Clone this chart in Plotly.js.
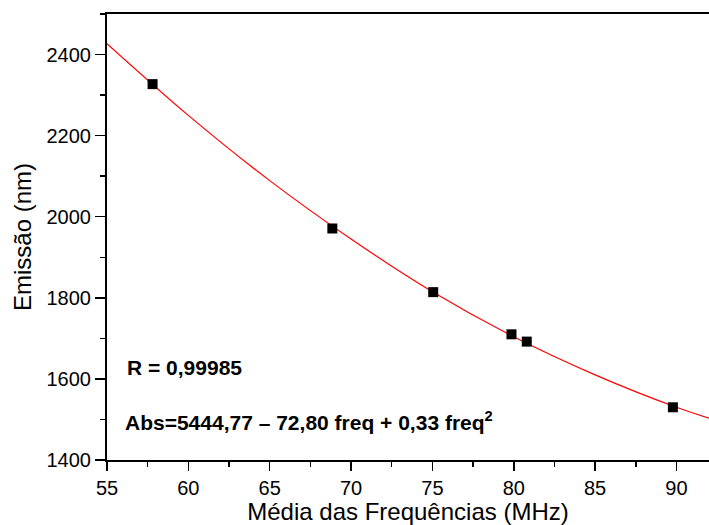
<!DOCTYPE html>
<html>
<head>
<meta charset="utf-8">
<script src="https://cdn.plot.ly/plotly-3.0.1.min.js"></script>
<style>html,body{margin:0;padding:0;background:#fff;}#chart{width:709px;height:525px;}</style>
</head>
<body>
<div id="chart"></div>
<script>
// Measured points
const freq = [57.8, 68.85, 75.05, 79.86, 80.8, 89.78];
const emissao = [2327, 1971, 1814, 1710, 1692, 1530];
// Fit curve
const fitFreq = [55, 60, 65, 70, 75, 80, 85, 90, 92];
const fitEmissao = [2427, 2250, 2089, 1945, 1815, 1704, 1610, 1530, 1503];
// Text
const xTitle = "Média das Frequências (MHz)";
const yTitle = "Emissão (nm)";
const rText = "<b>R = 0,99985</b>";
const eqText = "<b>Abs=5444,77 – 72,80 freq + 0,33 freq<sup>2</sup></b>";

const font = "'Liberation Sans', Arial, sans-serif";

const traces = [
  {x: fitFreq, y: fitEmissao, mode: "lines", type: "scatter",
   line: {color: "#ff0000", width: 1.2, shape: "spline", smoothing: 1}, hoverinfo: "skip"},
  {x: freq, y: emissao, mode: "markers", type: "scatter",
   marker: {symbol: "square", size: 10, color: "#000", line: {width: 0}}}
];

const layout = {
  width: 709, height: 525,
  margin: {l: 107, r: 0, t: 14, b: 65},
  paper_bgcolor: "#fff", plot_bgcolor: "#fff",
  showlegend: false,
  font: {family: font, color: "#000", size: 20},
  xaxis: {
    range: [55, 92], tick0: 55, dtick: 5,
    ticks: "outside", ticklen: 9, tickwidth: 1.5, tickcolor: "#000",
    minor: {ticks: "outside", ticklen: 5, tickwidth: 1.5, tickcolor: "#000", dtick: 2.5, tick0: 55},
    showline: true, linecolor: "#000", linewidth: 2, mirror: true,
    showgrid: false, zeroline: false,
    tickfont: {size: 20, family: font},
    title: {text: xTitle, font: {size: 24, family: font}, standoff: 2}
  },
  yaxis: {
    range: [1400, 2500], tick0: 1400, dtick: 200,
    ticks: "outside", ticklen: 10, tickwidth: 1.5, tickcolor: "#000",
    minor: {ticks: "outside", ticklen: 5, tickwidth: 1.5, tickcolor: "#000", dtick: 100, tick0: 1400},
    showline: true, linecolor: "#000", linewidth: 2,
    showgrid: false, zeroline: false,
    tickfont: {size: 20, family: font},
    title: {text: yTitle, font: {size: 24, family: font}, standoff: 8}
  },
  annotations: [
    {x: 56.1, y: 1628, xref: "x", yref: "y", text: rText, showarrow: false,
     xanchor: "left", yanchor: "middle", font: {size: 21, family: font, color: "#000"}},
    {x: 56.0, y: 1496, xref: "x", yref: "y", text: eqText, showarrow: false,
     xanchor: "left", yanchor: "middle", font: {size: 21, family: font, color: "#000"}}
  ]
};

Plotly.newPlot("chart", traces, layout, {displayModeBar: false, staticPlot: true});
</script>
</body>
</html>
